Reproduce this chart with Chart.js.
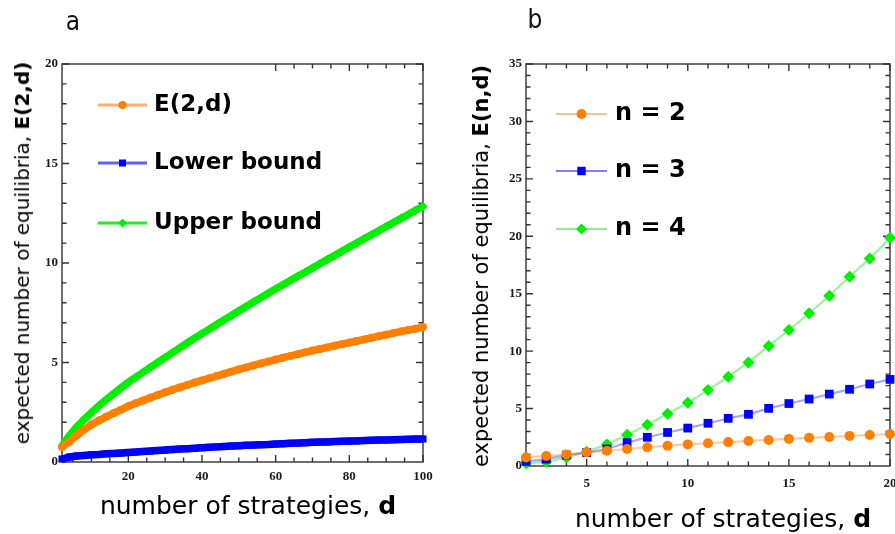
<!DOCTYPE html>
<html>
<head>
<meta charset="utf-8">
<script src="https://cdn.jsdelivr.net/npm/chart.js@4.4.0/dist/chart.umd.min.js"></script>
<style>
html, body { margin: 0; padding: 0; background: #fff; overflow: hidden; }
#page { position: relative; width: 895px; height: 534px; overflow: hidden; }
.box { position: absolute; top: 0; height: 534px; }
#boxA { left: 0; width: 445px; }
#boxB { left: 445px; width: 470px; }
.panel { position: absolute; transform: translate(-50%, -50%); font-family: "DejaVu Sans Condensed", "DejaVu Sans", sans-serif; font-size: 26px; color: #111; }
.xt { position: absolute; transform: translate(-50%, -50%); white-space: nowrap; font-family: "DejaVu Sans", sans-serif; font-size: 25px; color: #000; }
.yt { position: absolute; transform: translate(-50%, -50%) rotate(-90deg); white-space: nowrap; font-family: "DejaVu Sans", sans-serif; color: #000; }
</style>
</head>
<body>
<div id="page">
  <div class="box" id="boxA"><canvas id="chartA"></canvas></div>
  <div class="box" id="boxB"><canvas id="chartB"></canvas></div>
  <div class="panel" style="left:73px; top:21px;">a</div>
  <div class="panel" style="left:535px; top:19px;">b</div>
  <div class="xt" style="left:248px; top:505px;">number of strategies, <b>d</b></div>
  <div class="xt" style="left:723px; top:518px;">number of strategies, <b>d</b></div>
  <div class="yt" style="left:22px; top:253px; font-size:20px;">expected number of equilibria, <b>E(2,d)</b></div>
  <div class="yt" style="left:481px; top:266px; font-size:21px;">expected number of equilibria, <b>E(n,d)</b></div>
</div>
<script>
// ---- panel a: d = 2..100 (every 2nd value)
const dA = [2, 4, 6, 8, 10, 12, 14, 16, 18, 20, 22, 24, 26, 28, 30, 32, 34, 36, 38, 40,
            42, 44, 46, 48, 50, 52, 54, 56, 58, 60, 62, 64, 66, 68, 70, 72, 74, 76, 78, 80,
            82, 84, 86, 88, 90, 92, 94, 96, 98, 100];
const e2d = [0.75, 1.01, 1.33, 1.63, 1.88, 2.08, 2.27, 2.45, 2.62, 2.80, 2.95, 3.09, 3.23, 3.37, 3.50, 3.63, 3.75, 3.87, 3.99, 4.10,
             4.21, 4.32, 4.43, 4.54, 4.65, 4.75, 4.85, 4.95, 5.05, 5.15, 5.24, 5.33, 5.42, 5.51, 5.60, 5.68, 5.76, 5.84, 5.92, 6.00,
             6.08, 6.16, 6.24, 6.32, 6.40, 6.48, 6.56, 6.63, 6.70, 6.78];
const lowerBound = [0.15, 0.25, 0.30, 0.33, 0.36, 0.38, 0.41, 0.43, 0.45, 0.48, 0.50, 0.53, 0.55, 0.58, 0.60, 0.63, 0.65, 0.67, 0.69, 0.72,
                    0.74, 0.76, 0.78, 0.80, 0.82, 0.84, 0.85, 0.87, 0.88, 0.90, 0.92, 0.94, 0.95, 0.97, 0.99, 1.00, 1.01, 1.03, 1.04, 1.05,
                    1.06, 1.08, 1.09, 1.10, 1.11, 1.12, 1.13, 1.14, 1.15, 1.16];
const upperBound = [0.80, 1.33, 1.76, 2.14, 2.49, 2.82, 3.13, 3.43, 3.72, 4.00, 4.26, 4.51, 4.76, 5.01, 5.25, 5.50, 5.74, 5.98, 6.22, 6.45,
                    6.68, 6.91, 7.14, 7.36, 7.59, 7.81, 8.04, 8.26, 8.48, 8.70, 8.91, 9.12, 9.33, 9.54, 9.75, 9.96, 10.17, 10.38, 10.59, 10.80,
                    11.01, 11.21, 11.42, 11.62, 11.83, 12.03, 12.24, 12.44, 12.65, 12.85];
const xTicksA = [20, 40, 60, 80, 100];
const yTicksA = [0, 5, 10, 15, 20];

// ---- panel b: d = 2..20
const dB = [2, 3, 4, 5, 6, 7, 8, 9, 10, 11, 12, 13, 14, 15, 16, 17, 18, 19, 20];
const n2 = [0.75, 0.87, 1.01, 1.19, 1.33, 1.48, 1.63, 1.77, 1.88, 1.98, 2.08, 2.18, 2.27, 2.36, 2.45, 2.53, 2.62, 2.70, 2.78];
const n3 = [0.40, 0.60, 0.95, 1.17, 1.48, 2.04, 2.50, 2.92, 3.30, 3.72, 4.15, 4.50, 5.02, 5.44, 5.83, 6.26, 6.68, 7.14, 7.54];
const n4 = [0.23, 0.37, 0.73, 1.25, 1.88, 2.73, 3.60, 4.55, 5.51, 6.61, 7.77, 9.02, 10.44, 11.84, 13.29, 14.82, 16.48, 18.07, 19.87];
const xTicksB = [5, 10, 15, 20];
const yTicksB = [0, 5, 10, 15, 20, 25, 30, 35];

const ORANGE = '#ff7f00', BLUE = '#0000ff', GREEN = '#00f000';

function pts(xs, ys) { return xs.map((x, i) => ({ x: x, y: ys[i] })); }
function steps(a, b, s) { const out = []; for (let v = a; v <= b + 1e-9; v += s) out.push(v); return out; }

// frame with inward ticks on all four sides
const frameTicks = {
    id: 'frameTicks',
    beforeDatasetsDraw(chart, args, o) {
        const { ctx, chartArea: a, scales: { x, y } } = chart;
        ctx.save();
        ctx.strokeStyle = '#333';
        ctx.lineWidth = 1.4;
        ctx.strokeRect(a.left, a.top, a.right - a.left, a.bottom - a.top);
        ctx.beginPath();
        o.xMinor.forEach(v => {
            const len = o.xMajor.includes(v) ? 7 : 4.5;
            const px = x.getPixelForValue(v);
            ctx.moveTo(px, a.bottom); ctx.lineTo(px, a.bottom - len);
            if (v >= o.topFrom) { ctx.moveTo(px, a.top); ctx.lineTo(px, a.top + len); }
        });
        o.yMinor.forEach(v => {
            const len = o.yMajor.includes(v) ? 7 : 4.5;
            const py = y.getPixelForValue(v);
            ctx.moveTo(a.left, py); ctx.lineTo(a.left + len, py);
            ctx.moveTo(a.right, py); ctx.lineTo(a.right - len, py);
        });
        ctx.stroke();
        ctx.restore();
    }
};

// legend inside the plot: line + marker + bold text
const insideLegend = {
    id: 'insideLegend',
    afterDatasetsDraw(chart, args, o) {
        const { ctx, chartArea: a } = chart;
        ctx.save();
        chart.data.datasets.forEach((ds, i) => {
            const yy = a.top + o.ys[i];
            const x0 = a.left + o.x0, x1 = a.left + o.x1, xm = (x0 + x1) / 2;
            ctx.strokeStyle = ds.legendLine;
            ctx.lineWidth = o.lineWidth;
            ctx.beginPath(); ctx.moveTo(x0, yy); ctx.lineTo(x1, yy); ctx.stroke();
            ctx.fillStyle = ds.pointBackgroundColor;
            ctx.beginPath();
            drawMarker(ctx, ds.pointStyle, xm, yy, o.radius[i]);
            ctx.fill();
            ctx.fillStyle = '#000';
            ctx.font = 'bold ' + o.fontSize + 'px "DejaVu Sans", sans-serif';
            ctx.textBaseline = 'middle';
            ctx.fillText(ds.label, a.left + o.xText, yy);
        });
        ctx.restore();
    }
};

function drawMarker(ctx, style, x, y, r) {
    if (style === 'circle') {
        ctx.arc(x, y, r, 0, Math.PI * 2);
    } else if (style === 'rect') {
        ctx.rect(x - r, y - r, 2 * r, 2 * r);
    } else {
        ctx.moveTo(x, y - r); ctx.lineTo(x + r, y); ctx.lineTo(x, y + r); ctx.lineTo(x - r, y); ctx.closePath();
    }
}

function axis(min, max, ticks, pad, fitW, fitH, isX) {
    return {
        type: 'linear',
        min: min,
        max: max,
        grid: { display: false, drawTicks: false },
        border: { display: false },
        afterBuildTicks: s => { s.ticks = ticks.map(v => ({ value: v })); },
        afterFit: s => { if (isX) s.height = fitH; else s.width = fitW; },
        ticks: {
            font: { family: '"Liberation Serif", "DejaVu Serif", serif', weight: 'bold', size: 13 },
            color: '#1a1a1a',
            padding: pad,
            maxRotation: 0,
            autoSkip: false
        }
    };
}

function line(label, data, color, lineColor, style, radius, width, legendLine) {
    return {
        label: label,
        data: data,
        borderColor: lineColor,
        borderWidth: width,
        backgroundColor: color,
        pointBackgroundColor: color,
        pointBorderColor: color,
        pointBorderWidth: 0,
        pointStyle: style,
        pointRadius: radius,
        pointHoverRadius: radius,
        legendLine: legendLine,
        tension: 0,
        clip: false
    };
}

Chart.defaults.animation = false;

new Chart(document.getElementById('chartA'), {
    type: 'line',
    data: {
        datasets: [
            line('E(2,d)', pts(dA, e2d), ORANGE, ORANGE, 'circle', 4, 7.5, '#ffb070'),
            line('Lower bound', pts(dA, lowerBound), BLUE, BLUE, 'rect', 5, 7.5, '#6060ff'),
            line('Upper bound', pts(dA, upperBound), GREEN, GREEN, 'rectRot', 4.5, 7.5, '#20f020')
        ]
    },
    options: {
        responsive: true,
        maintainAspectRatio: false,
        layout: { padding: { left: 0, top: 64, right: 22, bottom: 42 } },
        scales: {
            x: axis(2, 100, xTicksA, 7, 0, 30, true),
            y: axis(0, 20, yTicksA, 4, 62, 0, false)
        },
        plugins: {
            legend: { display: false },
            tooltip: { enabled: false },
            frameTicks: { xMajor: xTicksA, xMinor: steps(5, 100, 5), yMajor: yTicksA, yMinor: steps(1, 20, 1), topFrom: 57 },
            insideLegend: { x0: 36, x1: 85, xText: 92, ys: [41, 99, 159], radius: [4, 3.5, 4.5], lineWidth: 3, fontSize: 23 }
        }
    },
    plugins: [frameTicks, insideLegend]
});

new Chart(document.getElementById('chartB'), {
    type: 'line',
    data: {
        datasets: [
            line('n = 2', pts(dB, n2), ORANGE, 'rgba(255,140,40,0.45)', 'circle', 5, 2.2, '#ffc08a'),
            line('n = 3', pts(dB, n3), BLUE, 'rgba(60,60,255,0.45)', 'rect', 6.2, 2.2, '#8080ff'),
            line('n = 4', pts(dB, n4), GREEN, 'rgba(60,230,60,0.5)', 'rectRot', 6, 2.2, '#90f090')
        ]
    },
    options: {
        responsive: true,
        maintainAspectRatio: false,
        layout: { padding: { left: 0, top: 64, right: 25, bottom: 38 } },
        scales: {
            x: axis(2, 20, xTicksB, 10, 0, 30, true),
            y: axis(0, 35, yTicksB, 4, 81, 0, false)
        },
        plugins: {
            legend: { display: false },
            tooltip: { enabled: false },
            frameTicks: { xMajor: xTicksB, xMinor: steps(3, 20, 1), yMajor: yTicksB, yMinor: steps(1, 35, 1), topFrom: 0 },
            insideLegend: { x0: 30, x1: 81, xText: 89, ys: [50, 107, 165], radius: [5, 4.2, 5.5], lineWidth: 2, fontSize: 24 }
        }
    },
    plugins: [frameTicks, insideLegend]
});
</script>
</body>
</html>
